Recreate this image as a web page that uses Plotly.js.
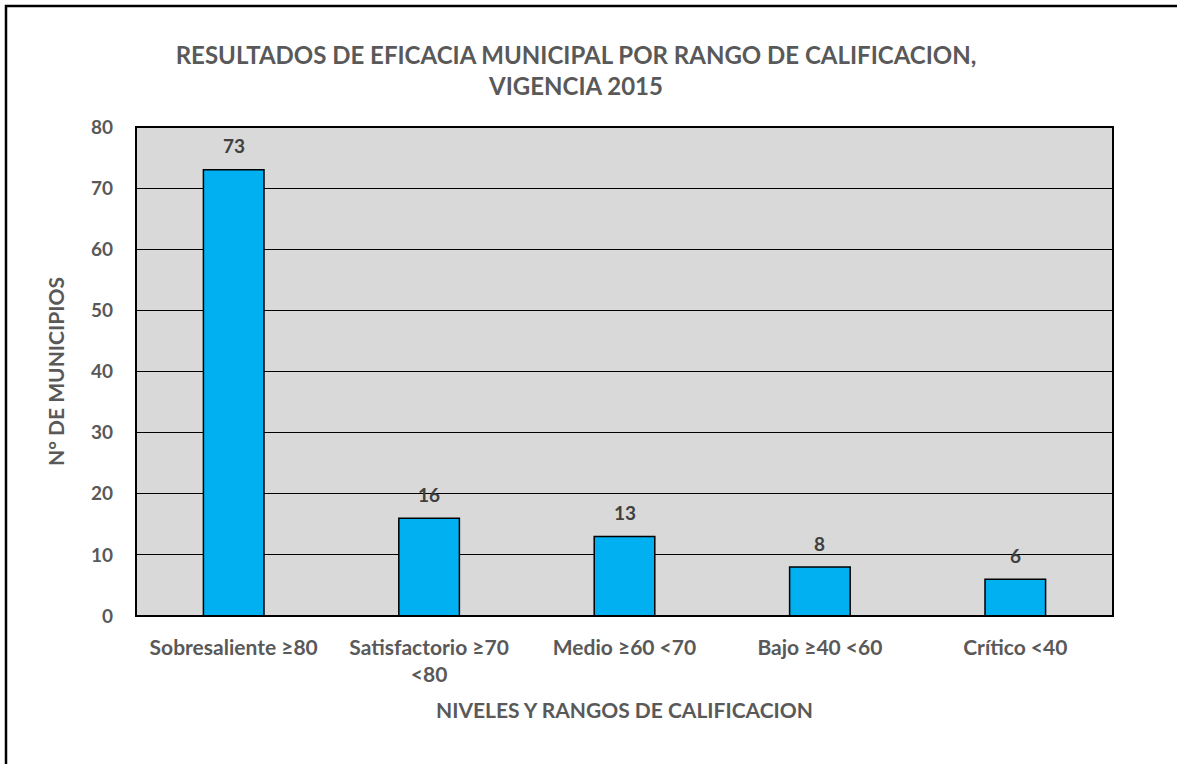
<!DOCTYPE html>
<html><head><meta charset="utf-8">
<script src="https://cdn.plot.ly/plotly-3.0.1.min.js"></script>
<style>html,body{margin:0;padding:0;background:#fff;}#chart{width:1177px;height:764px;}</style>
</head><body><div id="chart"></div>
<script>
const categories = ["Sobresaliente ≥80", "Satisfactorio ≥70<br><80", "Medio ≥60 <70", "Bajo ≥40 <60", "Crítico <40"];
const municipios = [73, 16, 13, 8, 6];
const yTicks = [0, 10, 20, 30, 40, 50, 60, 70, 80];

const W = 1177, H = 764;
const mL = 136, mR = 64, mT = 127, mB = 148;
const pw = W - mL - mR, ph = H - mT - mB;
const px = v => (v - mL) / pw;
const py = v => (H - mB - v) / ph;

const font = "Lato, 'Open Sans', sans-serif";
const trace = {
  type: 'bar', x: categories, y: municipios,
  marker: {color: '#00b0f0', line: {color: '#000', width: 1.5}},
  hoverinfo: 'none'
};
const labels = categories.map((c, i) => ({
  x: c, y: municipios[i], xref: 'x', yref: 'y', text: String(municipios[i]),
  showarrow: false, yanchor: 'middle', yshift: 24,
  font: {family: font, size: 19, color: '#404040', weight: 700}
}));
const layout = {
  width: W, height: H,
  margin: {l: mL, r: mR, t: mT, b: mB, pad: 0},
  paper_bgcolor: '#fff', plot_bgcolor: '#d9d9d9',
  bargap: 0.69, showlegend: false,
  font: {family: font, color: '#595959', size: 16, weight: 700},
  title: {text: 'RESULTADOS DE EFICACIA MUNICIPAL POR RANGO DE CALIFICACION,<br>VIGENCIA 2015',
    x: px(576), xref: 'paper', xanchor: 'center', y: 1 - 64 / H, yanchor: 'middle',
    font: {family: font, size: 24, color: '#595959', weight: 700}},
  xaxis: {type: 'category', showgrid: false, zeroline: false, showline: false, ticks: '',
    tickfont: {family: font, size: 21, color: '#595959', weight: 700}, ticklabelstandoff: 17,
    title: {text: 'NIVELES Y RANGOS DE CALIFICACION', standoff: 18,
      font: {family: font, size: 21, color: '#595959', weight: 700}}},
  yaxis: {range: [0, 80], tickvals: yTicks, ticktext: yTicks.map(String), showgrid: true,
    gridcolor: '#000', gridwidth: 1, zeroline: false, showline: false, ticks: '',
    tickfont: {family: font, size: 19, color: '#595959', weight: 700}, ticklabelstandoff: 22,
    title: {text: 'N° DE MUNICIPIOS', standoff: 20,
      font: {family: font, size: 21, color: '#595959', weight: 700}}},
  annotations: labels,
  shapes: [
    {type: 'rect', xref: 'paper', yref: 'paper', x0: 0, x1: 1, y0: 0, y1: 1,
      line: {color: '#000', width: 2}, fillcolor: 'rgba(0,0,0,0)', layer: 'above'},
    {type: 'rect', xref: 'paper', yref: 'paper', x0: px(6), x1: px(1200), y0: py(800), y1: py(6),
      line: {color: '#000', width: 2.5}, fillcolor: 'rgba(0,0,0,0)'}
  ]
};
Plotly.newPlot('chart', [trace], layout, {displayModeBar: false, staticPlot: true});
</script></body></html>
